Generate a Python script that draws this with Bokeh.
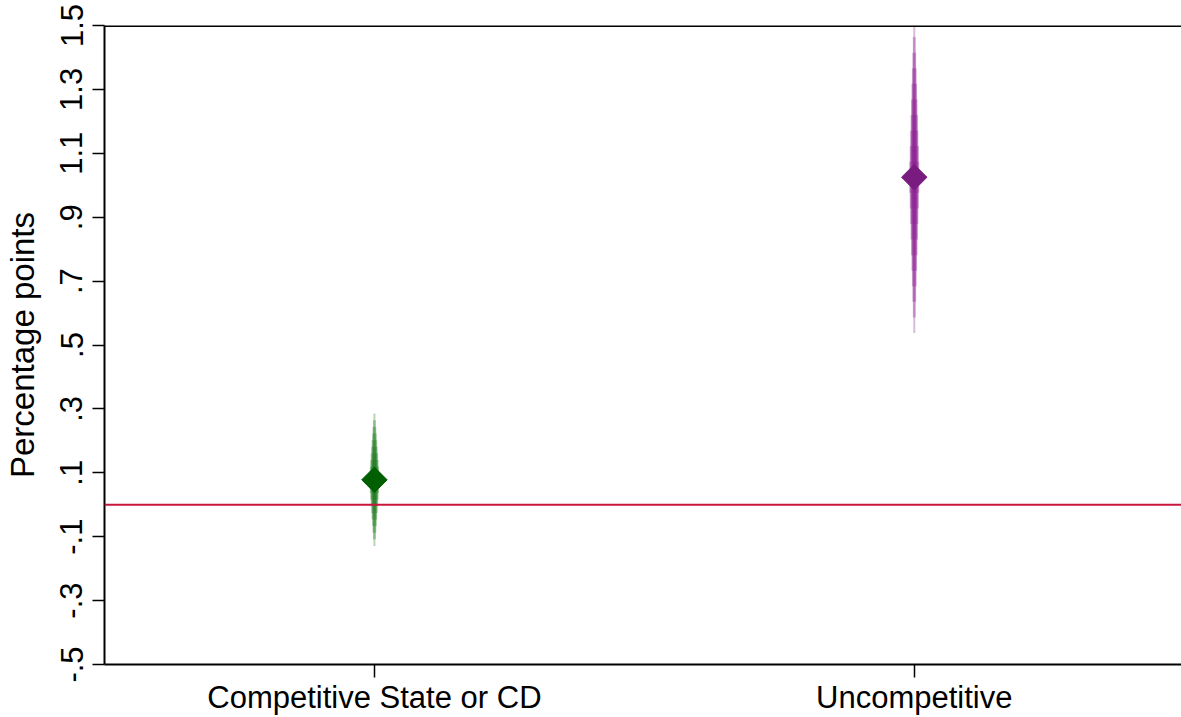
import numpy as np
from bokeh.plotting import figure
from bokeh.models import Range1d, FixedTicker, Span, ColumnDataSource
from bokeh.embed import file_html
from bokeh.resources import INLINE

# ---- data ----
categories = ["Competitive State or CD", "Uncompetitive"]
estimates = [0.078, 1.025]
std_errors = [0.069, 0.1625]
point_colors = ["#005F00", "#7A1B80"]
spike_colors = ["#1F7A1F", "#8B2293"]

y_ticks = [-0.5, -0.3, -0.1, 0.1, 0.3, 0.5, 0.7, 0.9, 1.1, 1.3, 1.5]
y_tick_labels = ["-.5", "-.3", "-.1", ".1", ".3", ".5", ".7", ".9", "1.1", "1.3", "1.5"]

# smoothed-CI layers (style): z multipliers and their screen widths
z_levels = [3.0, 2.7, 2.4, 2.1, 1.8, 1.5, 1.2, 0.9, 0.6, 0.3]
layer_widths = [2.0, 2.9, 3.8, 4.7, 5.6, 6.5, 7.4, 8.3, 9.2, 10.0]

FONT = "Liberation Sans"

x_pos = [i + 1 for i in range(len(categories))]

p = figure(width=1181, height=717, output_backend="svg", toolbar_location=None,
           x_range=Range1d(0.5, 2.495), y_range=Range1d(-0.5, 1.5),
           min_border_left=100, min_border_top=25, min_border_right=0, min_border_bottom=52)
p.outline_line_color = None
p.xgrid.grid_line_color = None
p.ygrid.grid_line_color = None
p.background_fill_color = "white"
p.border_fill_color = "white"

# zero line
p.add_layout(Span(location=0, dimension="width", line_color="#C8153C", line_width=2))
# top border of the plot region
p.add_layout(Span(location=y_ticks[-1], dimension="width", line_color="black", line_width=3))

# spikes
for i in range(len(categories)):
    for z, w in zip(z_levels, layer_widths):
        p.segment(x0=[x_pos[i]], y0=[estimates[i] - z * std_errors[i]],
                  x1=[x_pos[i]], y1=[estimates[i] + z * std_errors[i]],
                  line_color=spike_colors[i], line_width=w, line_alpha=0.32, line_cap="butt")

src = ColumnDataSource(dict(x=x_pos, y=estimates, c=point_colors))
p.scatter(x="x", y="y", source=src, marker="square", angle=np.pi / 4, size=18,
          fill_color="c", line_color="c")

# x axis
xa = p.xaxis[0]
xa.ticker = FixedTicker(ticks=x_pos)
xa.major_label_overrides = {x: c for x, c in zip(x_pos, categories)}
xa.minor_tick_line_color = None
xa.major_tick_out = 13
xa.major_tick_in = 0
xa.major_label_standoff = 2
xa.axis_line_width = 2
xa.major_tick_line_width = 1.5
xa.major_label_text_font = FONT
xa.major_label_text_font_size = "31px"
xa.major_label_text_color = "black"

# y axis
ya = p.yaxis[0]
ya.ticker = FixedTicker(ticks=y_ticks)
ya.major_label_overrides = {t: l for t, l in zip(y_ticks, y_tick_labels)}
ya.minor_tick_line_color = None
ya.major_tick_out = 12
ya.major_tick_in = 0
ya.major_label_standoff = 10
ya.major_label_orientation = "vertical"
ya.axis_line_width = 2
ya.major_tick_line_width = 1.5
ya.major_label_text_font = FONT
ya.major_label_text_font_size = "31px"
ya.major_label_text_color = "black"
ya.axis_label = "Percentage points"
ya.axis_label_text_font = FONT
ya.axis_label_text_font_size = "33px"
ya.axis_label_text_font_style = "normal"
ya.axis_label_text_color = "black"
ya.axis_label_standoff = 17

open("out.html", "w").write(file_html(p, INLINE))
